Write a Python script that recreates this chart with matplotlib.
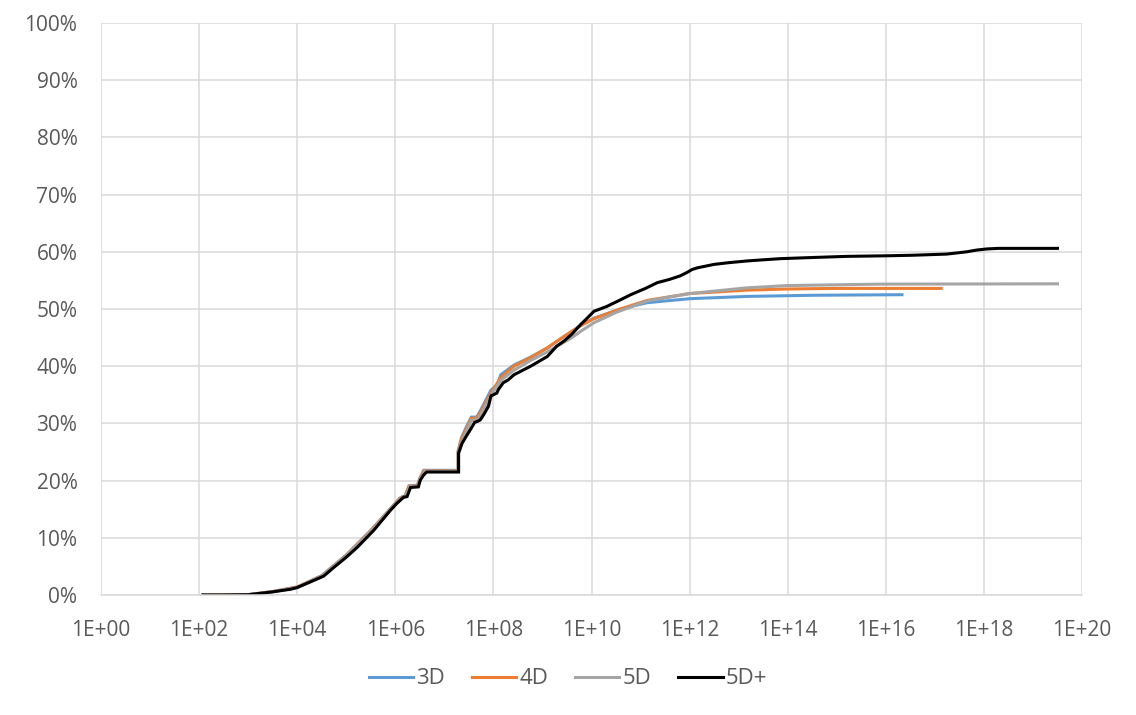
import matplotlib
matplotlib.use("Agg")
import matplotlib.pyplot as plt
from matplotlib.ticker import FixedLocator, FuncFormatter, NullLocator
import numpy as np

# ---- data: x given as log10 exponent, y in percent ---------------------------
exp_5dp = [2.08, 2.5, 3.0, 3.5, 3.86, 4.0, 4.54, 4.73, 5.0, 5.22, 5.56, 5.9,
           6.03, 6.17, 6.24, 6.31, 6.47, 6.51, 6.58, 6.64, 7.29, 7.29, 7.36,
           7.45, 7.53, 7.62, 7.66, 7.73, 7.8, 7.9, 7.95, 8.07, 8.1, 8.2, 8.3,
           8.42, 8.6, 8.76, 8.9, 9.1, 9.29, 9.44, 9.6, 9.78, 9.9, 10.05, 10.3,
           10.59, 10.8, 11.1, 11.34, 11.6, 11.81, 11.95, 12.05, 12.16, 12.5,
           12.8, 13.17, 13.5, 13.85, 14.5, 15.2, 16.0, 16.56, 17.24, 17.45,
           17.65, 17.85, 18.06, 18.3, 18.6, 19.0, 19.5]
pct_5dp = [0.0, 0.0, 0.05, 0.55, 1.0, 1.3, 3.3, 4.7, 6.6, 8.3, 11.3, 14.8,
           16.0, 17.1, 17.2, 18.8, 18.9, 20.1, 21.0, 21.5, 21.5, 24.8, 26.5,
           27.8, 28.9, 30.2, 30.3, 30.6, 31.5, 33.0, 34.8, 35.3, 35.9, 37.1,
           37.6, 38.5, 39.3, 40.0, 40.7, 41.7, 43.5, 44.4, 45.6, 47.3, 48.3,
           49.6, 50.4, 51.6, 52.5, 53.6, 54.6, 55.2, 55.8, 56.4, 56.9, 57.2,
           57.8, 58.1, 58.4, 58.6, 58.8, 59.0, 59.2, 59.3, 59.4, 59.6, 59.8,
           60.0, 60.3, 60.5, 60.6, 60.6, 60.6, 60.6]

exp_4d = [2.08, 2.5, 3.0, 3.5, 4.0, 4.5, 5.0, 5.5, 5.9, 6.1, 6.2, 6.28, 6.45,
          6.5, 6.58, 7.28, 7.28, 7.35, 7.45, 7.55, 7.66, 7.74, 7.95, 8.15,
          8.42, 8.76, 9.1, 9.44, 9.78, 10.05, 10.59, 11.13, 12.0, 13.17, 14.0,
          15.0, 17.13]
pct_4d = [0.0, 0.0, 0.05, 0.6, 1.4, 3.3, 6.9, 11.2, 15.0, 16.9, 17.3, 19.0,
          19.1, 20.3, 21.7, 21.7, 25.0, 27.2, 29.0, 30.9, 30.9, 31.9, 35.3,
          38.0, 40.0, 41.5, 43.2, 45.2, 47.1, 48.3, 50.0, 51.5, 52.7, 53.3,
          53.5, 53.6, 53.6]

exp_3d = [2.08, 2.5, 3.0, 3.5, 4.0, 4.5, 5.0, 5.5, 5.9, 6.1, 6.2, 6.28, 6.45,
          6.5, 6.58, 7.28, 7.28, 7.35, 7.45, 7.55, 7.66, 7.74, 7.95, 8.08,
          8.15, 8.42, 8.76, 9.1, 9.44, 9.78, 10.05, 10.59, 11.13, 12.0, 13.17,
          14.5, 16.33]
pct_3d = [0.0, 0.0, 0.05, 0.6, 1.4, 3.4, 7.0, 11.3, 15.1, 17.0, 17.4, 19.1,
          19.2, 20.4, 21.8, 21.8, 25.2, 27.5, 29.4, 31.1, 31.1, 32.3, 35.8,
          36.8, 38.5, 40.2, 41.6, 43.2, 45.2, 47.1, 48.4, 50.0, 51.1, 51.8,
          52.2, 52.4, 52.5]

exp_5d = [2.08, 2.5, 3.0, 3.5, 4.0, 4.5, 5.0, 5.5, 5.9, 6.1, 6.2, 6.3, 6.46,
          6.5, 6.6, 7.29, 7.29, 7.36, 7.45, 7.55, 7.66, 7.74, 7.95, 8.15,
          8.42, 8.76, 9.1, 9.44, 9.6, 9.78, 10.05, 10.5, 11.13, 12.0, 13.17,
          14.0, 15.9, 19.5]
pct_5d = [0.0, 0.0, 0.05, 0.55, 1.3, 3.2, 6.8, 11.0, 14.9, 16.7, 17.2, 18.9,
          19.0, 20.2, 21.6, 21.6, 24.9, 26.8, 28.5, 30.5, 30.6, 31.4, 34.9,
          37.5, 39.3, 41.0, 42.5, 44.2, 45.0, 46.1, 47.6, 49.4, 51.4, 52.7,
          53.7, 54.1, 54.35, 54.4]

series = [
    ("3D", exp_3d, pct_3d, "#5b9bd5"),
    ("4D", exp_4d, pct_4d, "#ed7d31"),
    ("5D", exp_5d, pct_5d, "#a5a5a5"),
    ("5D+", exp_5dp, pct_5dp, "#000000"),
]

plt.rcParams["font.family"] = ["Open Sans", "DejaVu Sans"]
text_col = "#595959"
grid_col = "#d9d9d9"

fig = plt.figure(figsize=(11.36, 7.15), dpi=100)
ax = fig.add_axes([101 / 1136, 1 - 595 / 715, 981 / 1136, 572 / 715])

for name, ex, pc, col in series:
    ax.plot(10.0 ** np.array(ex), pc, color=col, linewidth=2.2, label=name,
            solid_joinstyle="miter")

ax.set_xscale("log")
ax.set_xlim(1, 1e20)
ax.set_ylim(0, 100)
ax.xaxis.set_major_locator(FixedLocator([10.0 ** k for k in range(0, 21, 2)]))
ax.xaxis.set_minor_locator(NullLocator())
ax.xaxis.set_major_formatter(FuncFormatter(lambda v, p: "1E+%02d" % round(np.log10(v))))
ax.set_yticks(range(0, 101, 10))
ax.yaxis.set_major_formatter(FuncFormatter(lambda v, p: "%d%%" % v))

ax.grid(True, color=grid_col, linewidth=1.1)
ax.set_axisbelow(True)
for s in ax.spines.values():
    s.set_visible(False)
ax.spines["bottom"].set_visible(True)
ax.spines["bottom"].set_color(grid_col)
ax.spines["bottom"].set_linewidth(1.1)
ax.tick_params(axis="both", length=0, labelsize=15, labelcolor=text_col)
ax.tick_params(axis="y", pad=17)
ax.tick_params(axis="x", pad=18)

fig.legend(loc="center", bbox_to_anchor=(0.5, 1 - 679 / 715), ncol=4,
           frameon=False, fontsize=16, labelcolor=text_col,
           handlelength=2.0, handletextpad=0.15, columnspacing=1.2)

fig.savefig("out.png", dpi=100)
